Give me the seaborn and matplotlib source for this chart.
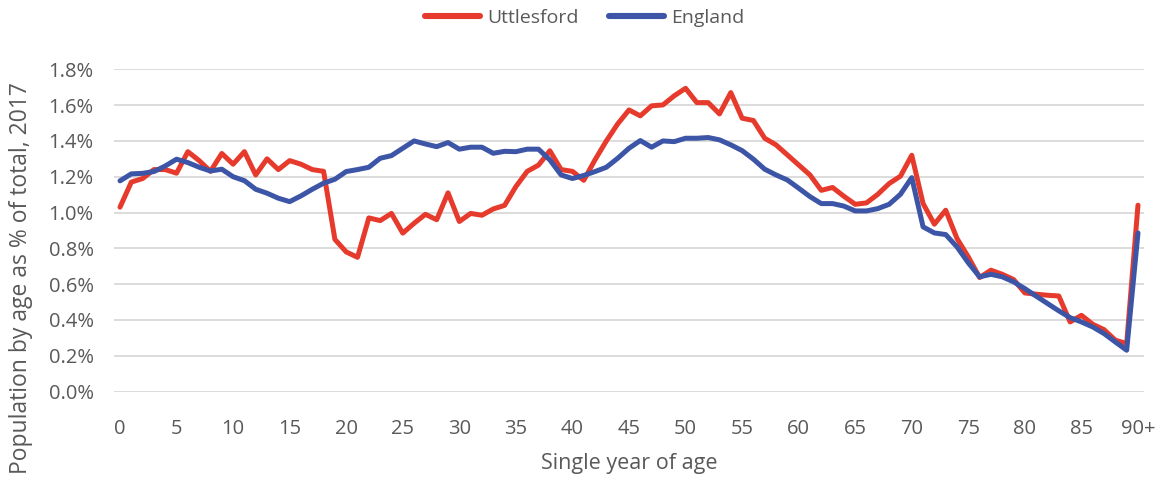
import matplotlib
matplotlib.use("Agg")
import matplotlib.pyplot as plt
import seaborn as sns
import pandas as pd
from matplotlib.ticker import FuncFormatter

# Share of total population by single year of age, 2017 (%)
ages = list(range(91))  # 90 stands for 90+

uttlesford = [
    1.03, 1.17, 1.19, 1.24, 1.24, 1.22, 1.34, 1.29, 1.23, 1.33,
    1.27, 1.34, 1.21, 1.30, 1.24, 1.29, 1.27, 1.24, 1.23, 0.85,
    0.78, 0.75, 0.97, 0.955, 0.995, 0.885, 0.94, 0.99, 0.96, 1.11,
    0.95, 0.995, 0.985, 1.02, 1.04, 1.145, 1.23, 1.265, 1.345, 1.24,
    1.23, 1.18, 1.295, 1.40, 1.495, 1.573, 1.54, 1.596, 1.601, 1.652,
    1.694, 1.614, 1.614, 1.551, 1.67, 1.527, 1.514, 1.415, 1.378, 1.322,
    1.266, 1.21, 1.124, 1.14, 1.091, 1.046, 1.054, 1.102, 1.162, 1.203,
    1.32, 1.05, 0.935, 1.013, 0.855, 0.752, 0.637, 0.678, 0.655, 0.626,
    0.551, 0.544, 0.538, 0.534, 0.389, 0.426, 0.376, 0.346, 0.287, 0.268,
    1.041,
]

england = [
    1.177, 1.216, 1.219, 1.229, 1.26, 1.298, 1.279, 1.253, 1.232, 1.242,
    1.20, 1.178, 1.13, 1.108, 1.08, 1.061, 1.093, 1.13, 1.164, 1.186,
    1.229, 1.24, 1.253, 1.303, 1.318, 1.359, 1.40, 1.383, 1.368, 1.391,
    1.354, 1.365, 1.365, 1.331, 1.342, 1.34, 1.354, 1.354, 1.294, 1.21,
    1.19, 1.207, 1.229, 1.253, 1.303, 1.359, 1.402, 1.365, 1.40, 1.396,
    1.415, 1.415, 1.419, 1.406, 1.378, 1.346, 1.298, 1.242, 1.21, 1.182,
    1.136, 1.089, 1.05, 1.05, 1.036, 1.009, 1.009, 1.022, 1.046, 1.102,
    1.195, 0.92, 0.886, 0.877, 0.808, 0.719, 0.641, 0.655, 0.641, 0.613,
    0.575, 0.533, 0.492, 0.451, 0.413, 0.389, 0.361, 0.324, 0.277, 0.231,
    0.886,
]

tick_ages = list(range(0, 91, 5))
tick_labels = [str(a) for a in tick_ages[:-1]] + ["90+"]

series_names = ["Uttlesford", "England"]
series_colors = ["#E63A2C", "#3D55A6"]

df = pd.DataFrame({
    "age": ages * 2,
    "share": uttlesford + england,
    "area": [series_names[0]] * len(ages) + [series_names[1]] * len(ages),
})

sns.set_theme(style="white")
plt.rcParams["font.family"] = ["Open Sans", "DejaVu Sans"]

fig = plt.figure(figsize=(11.62, 4.8), dpi=100)
ax = fig.add_axes([0.0984, 0.1842, 0.8858, 0.6714])

sns.lineplot(
    data=df, x="age", y="share", hue="area",
    palette=dict(zip(series_names, series_colors)),
    linewidth=3.6, ax=ax, legend=False, zorder=3,
)

ax.set_xlim(-0.5, 90.5)
ax.set_ylim(0, 1.8)
ax.set_yticks([i * 0.2 for i in range(10)])
ax.yaxis.set_major_formatter(FuncFormatter(lambda v, _: f"{v:.1f}%"))
ax.set_xticks(tick_ages)
ax.set_xticklabels(tick_labels)

ax.grid(axis="y", color="#D9D9D9", linewidth=1.3, zorder=0)
ax.grid(axis="x", visible=False)
for s in ax.spines.values():
    s.set_visible(False)

ax.tick_params(axis="both", length=0, labelsize=14.5, colors="#595959")
ax.tick_params(axis="x", pad=20)
ax.tick_params(axis="y", pad=15)

ax.set_xlabel("Single year of age", fontsize=15.5, color="#595959", labelpad=10)
ax.set_ylabel("Population by age as % of total, 2017", fontsize=16.5,
              color="#595959")
ax.yaxis.set_label_coords(-0.079, 0.352)

handles = [plt.Line2D([], [], color=c, linewidth=4.4, solid_capstyle="round")
           for c in series_colors]
fig.legend(handles, series_names, loc="center", ncol=2,
           bbox_to_anchor=(0.503, 0.9625), frameon=False, fontsize=14,
           labelcolor="#595959", handlelength=2.85, columnspacing=1.55,
           handletextpad=0.36)

fig.savefig("out.png", dpi=100)
